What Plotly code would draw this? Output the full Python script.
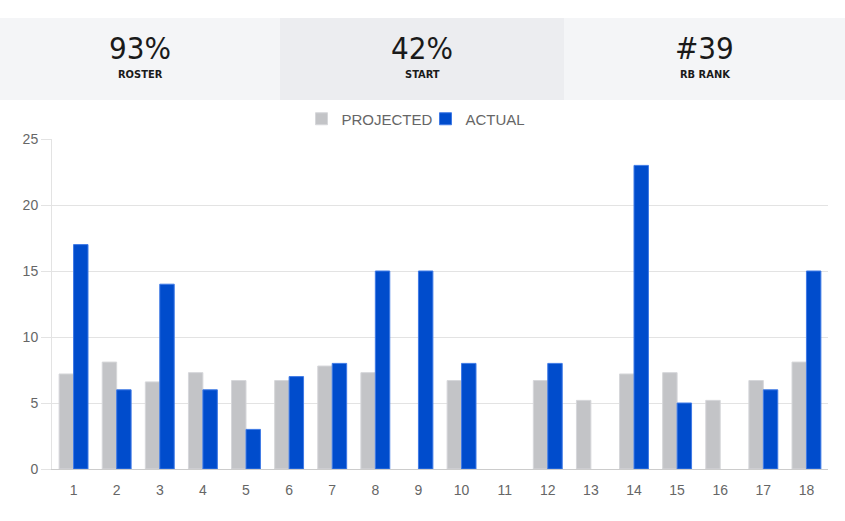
import plotly.graph_objects as go

weeks = [str(i) for i in range(1, 19)]
projected = [7.2, 8.1, 6.6, 7.3, 6.7, 6.7, 7.8, 7.3, None, 6.7, None, 6.7, 5.2, 7.2, 7.3, 5.2, 6.7, 8.1]
actual = [17, 6, 14, 6, 3, 7, 8, 15, 15, 8, None, 8, None, 23, 5, None, 6, 15]

stat_values = ["93%", "42%", "#39"]
stat_labels = ["ROSTER", "START", "RB RANK"]

W, H = 845, 521
ML, MR, MT, MB = 52, 17, 139, 52
PW, PH = W - ML - MR, H - MT - MB

def px(x):
    return (x - ML) / PW

def py(y):
    return (H - MB - y) / PH

HEAD_FONT = "Liberation Sans Narrow, DejaVu Sans Condensed, Roboto, sans-serif"

fig = go.Figure()
fig.add_trace(go.Bar(x=weeks, y=projected, name="PROJECTED",
                     marker=dict(color="#c3c4c7", line=dict(color="#d6d7da", width=1))))
fig.add_trace(go.Bar(x=weeks, y=actual, name="ACTUAL",
                     marker=dict(color="#004ccc", line=dict(color="#3f7ae6", width=1))))

panels = [(0, 280, "#f4f5f7"), (280, 564, "#ecedf0"), (564, W, "#f4f5f7")]
shapes = []
annotations = []
for (x0, x1, col), val, lab in zip(panels, stat_values, stat_labels):
    shapes.append(dict(type="rect", xref="paper", yref="paper",
                       x0=px(x0), x1=px(x1), y0=py(100), y1=py(18),
                       fillcolor=col, line=dict(width=0), layer="below"))
    cx = (x0 + x1) / 2
    annotations.append(dict(xref="paper", yref="paper", x=px(cx), y=py(67),
                            text=val, showarrow=False, xanchor="center", yanchor="bottom",
                            borderpad=0,
                            font=dict(family=HEAD_FONT, size=31, color="#1a1a1a")))
    annotations.append(dict(xref="paper", yref="paper", x=px(cx), y=py(67),
                            text=lab, showarrow=False, xanchor="center", yanchor="top",
                            borderpad=0,
                            font=dict(family=HEAD_FONT, size=11, color="#1a1a1a", weight="bold")))

fig.update_layout(
    width=W, height=H,
    margin=dict(l=ML, r=MR, t=MT, b=MB, autoexpand=False),
    paper_bgcolor="white", plot_bgcolor="white",
    barmode="group", bargap=0.33, bargroupgap=0,
    font=dict(family="Liberation Sans, Arial, sans-serif", size=14, color="#666666"),
    legend=dict(orientation="h", xref="container", yref="container",
                x=0.5 + 3 / W, xanchor="center", y=1 - 119 / H, yanchor="middle",
                bgcolor="rgba(0,0,0,0)", entrywidth=79, entrywidthmode="pixels",
                font=dict(size=15, color="#666666")),
    shapes=shapes, annotations=annotations,
    xaxis=dict(type="category", showgrid=False, showline=True, linecolor="#cccccc",
               ticks="outside", ticklen=8, tickcolor="rgba(0,0,0,0)",
               tickfont=dict(size=14, color="#666666")),
    yaxis=dict(range=[0, 25], dtick=5, showgrid=True, gridcolor="#e3e3e3",
               showline=True, linecolor="#e3e3e3", ticks="outside", ticklen=10,
               tickcolor="#e3e3e3", zeroline=False,
               tickfont=dict(size=14, color="#666666")),
)

fig.write_html("out.html")
